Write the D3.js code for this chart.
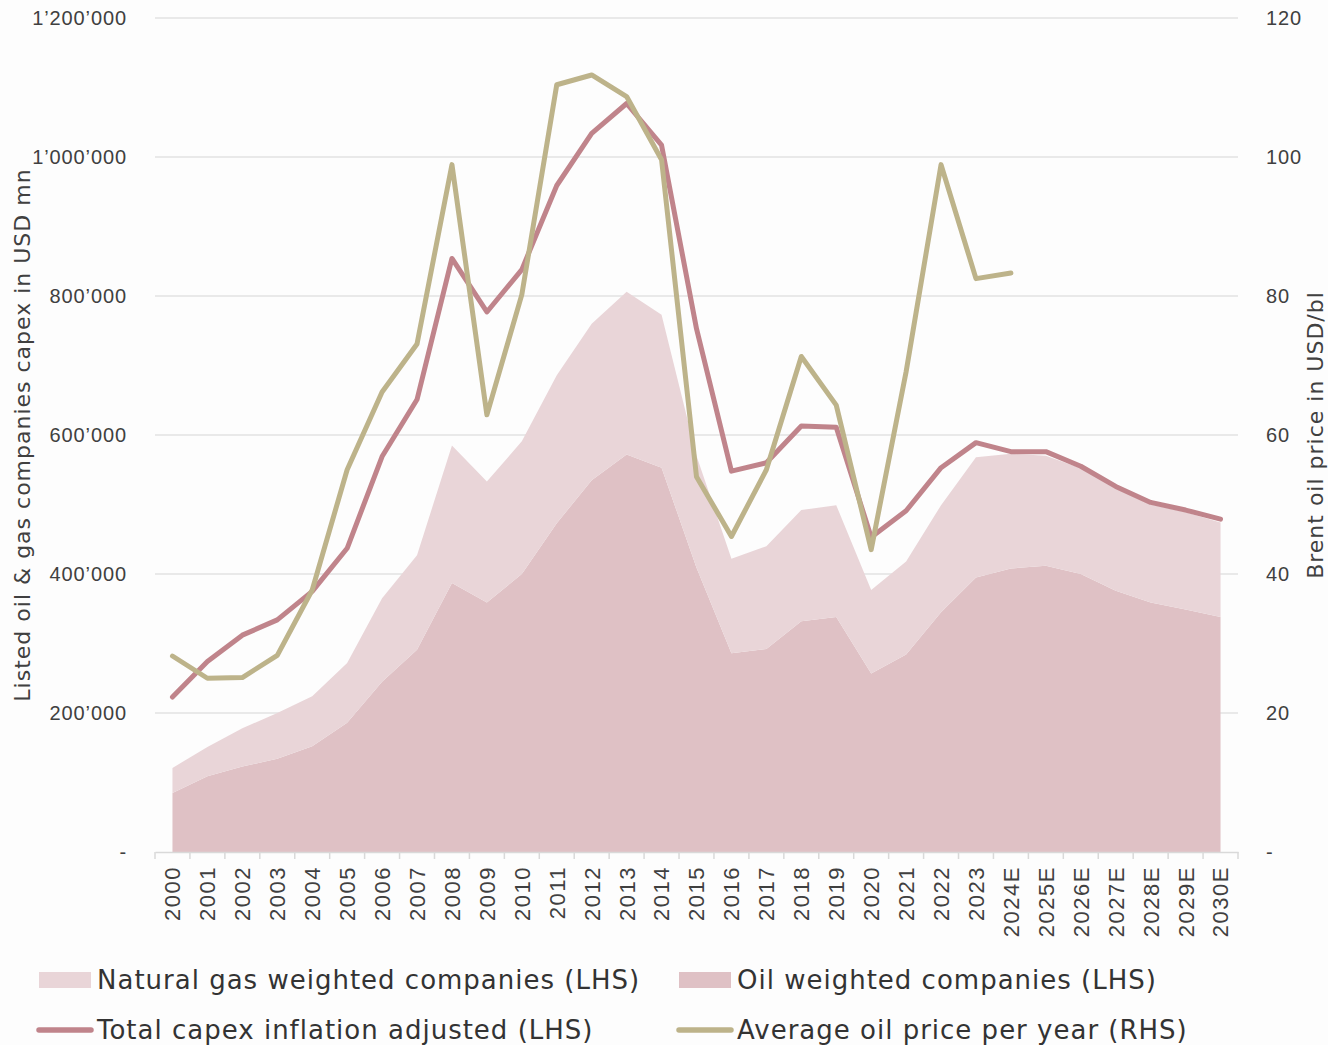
<!DOCTYPE html>
<html>
<head>
<meta charset="utf-8">
<script src="https://cdn.jsdelivr.net/npm/d3@7"></script>
<style>
  body { margin: 0; background: #fdfdfd; }
  svg { display: block; font-family: "DejaVu Sans", sans-serif; }
</style>
</head>
<body>
<svg id="chart" width="1328" height="1045"></svg>
<script>
// categories
var years = ["2000","2001","2002","2003","2004","2005","2006","2007","2008","2009","2010",
  "2011","2012","2013","2014","2015","2016","2017","2018","2019","2020","2021","2022","2023",
  "2024E","2025E","2026E","2027E","2028E","2029E","2030E"];

// capex, USD mn (LHS)
var oilWeighted = [85000,109000,123000,134000,152000,186000,245000,291000,387000,359000,400000,
  473000,535000,572000,553000,409000,286000,292000,332000,338000,257000,284000,345000,395000,
  408000,412000,400000,376000,359000,349000,338000];
var gasWeighted = [36000,42000,55000,66000,72000,86000,120000,136000,198000,174000,191000,
  213000,225000,234000,220000,161000,136000,148000,160000,161000,120000,134000,154000,173000,
  165000,158000,152000,147000,141000,140000,136000];
var totalCapex = [223000,274000,312000,334000,375000,437000,569000,651000,854000,777000,838000,
  959000,1034000,1077000,1017000,753000,548000,560000,613000,611000,453000,491000,553000,589000,
  576000,576000,555000,526000,503000,492000,479000];

// Brent, USD/bl (RHS)
var oilPrice = [28.2,25.0,25.1,28.3,37.7,55.0,66.2,73.1,98.9,62.9,80.2,
  110.4,111.8,108.7,99.6,54.0,45.4,55.0,71.3,64.3,43.5,69.1,98.9,82.5,
  83.3,null,null,null,null,null,null];

var leftTicks = [0,200000,400000,600000,800000,1000000,1200000];
var rightTicks = [0,20,40,60,80,100,120];

var cLight = "#e9d5d8", cDark = "#dfc1c5", cRed = "#c0848b", cGold = "#bdb38a";
var textCol = "#404040";

var svg = d3.select("#chart");
var mLeft = 155, mRight = 1238, mTop = 18, mBottom = 852;

var x = d3.scaleBand().domain(years).range([mLeft, mRight]).padding(0);
var xc = function(d){ return x(d) + x.bandwidth()/2; };
var y = d3.scaleLinear().domain([0,1200000]).range([mBottom, mTop]);
var y2 = d3.scaleLinear().domain([0,120]).range([mBottom, mTop]);

var fmt = function(v){ return v === 0 ? "-" : d3.format(",")(v).replace(/,/g, "\u2019"); };

// gridlines
svg.append("g").selectAll("line").data(leftTicks.slice(1)).join("line")
  .attr("x1", mLeft).attr("x2", mRight)
  .attr("y1", function(d){ return y(d); }).attr("y2", function(d){ return y(d); })
  .attr("stroke", "#e2e2e2").attr("stroke-width", 1.5);

// stacked areas
var rows = years.map(function(yr, i){ return {year: yr, oil: oilWeighted[i], gas: gasWeighted[i]}; });
var stacked = d3.stack().keys(["oil","gas"])(rows);
var area = d3.area()
  .x(function(d){ return xc(d.data.year); })
  .y0(function(d){ return y(d[0]); })
  .y1(function(d){ return y(d[1]); });
svg.append("g").selectAll("path").data(stacked).join("path")
  .attr("d", area)
  .attr("fill", function(d){ return d.key === "oil" ? cDark : cLight; });

// lines
var capexLine = d3.line()
  .x(function(d, i){ return xc(years[i]); })
  .y(function(d){ return y(d); });
svg.append("path").datum(totalCapex)
  .attr("d", capexLine)
  .attr("fill", "none").attr("stroke", cRed).attr("stroke-width", 5)
  .attr("stroke-linejoin", "round").attr("stroke-linecap", "round");

var priceLine = d3.line()
  .defined(function(d){ return d !== null; })
  .x(function(d, i){ return xc(years[i]); })
  .y(function(d){ return y2(d); });
svg.append("path").datum(oilPrice)
  .attr("d", priceLine)
  .attr("fill", "none").attr("stroke", cGold).attr("stroke-width", 5)
  .attr("stroke-linejoin", "round").attr("stroke-linecap", "round");

// x axis
var xAxis = svg.append("g").attr("transform", "translate(0," + mBottom + ")")
  .call(d3.axisBottom(x).tickSize(0).tickPadding(0));
xAxis.select(".domain").attr("stroke", "#d9d9d9").attr("stroke-width", 1.5);
xAxis.selectAll(".tick text")
  .attr("font-size", 22).attr("letter-spacing", 1.5).attr("fill", textCol)
  .attr("text-anchor", "end")
  .attr("transform", "translate(0,14) rotate(-90)")
  .attr("x", 0).attr("y", 0).attr("dy", "0.36em");
svg.append("g").selectAll("line").data(years.concat(["end"])).join("line")
  .attr("x1", function(d, i){ return mLeft + i * x.bandwidth(); })
  .attr("x2", function(d, i){ return mLeft + i * x.bandwidth(); })
  .attr("y1", mBottom).attr("y2", mBottom + 7)
  .attr("stroke", "#d9d9d9").attr("stroke-width", 1.5);

// left axis
var yAxis = svg.append("g").attr("transform", "translate(" + mLeft + ",0)")
  .call(d3.axisLeft(y).tickValues(leftTicks).tickFormat(fmt).tickSize(0).tickPadding(28));
yAxis.select(".domain").remove();
yAxis.selectAll(".tick text").attr("font-size", 20).attr("letter-spacing", 0.9).attr("fill", textCol);

// right axis
var y2Axis = svg.append("g").attr("transform", "translate(" + mRight + ",0)")
  .call(d3.axisRight(y2).tickValues(rightTicks).tickFormat(fmt).tickSize(0).tickPadding(28));
y2Axis.select(".domain").remove();
y2Axis.selectAll(".tick text").attr("font-size", 20).attr("letter-spacing", 0.9).attr("fill", textCol);

// axis titles
svg.append("text")
  .attr("transform", "translate(30," + (mTop + mBottom)/2 + ") rotate(-90)")
  .attr("text-anchor", "middle").attr("font-size", 22).attr("letter-spacing", 1)
  .attr("fill", textCol)
  .text("Listed oil & gas companies capex in USD mn");
svg.append("text")
  .attr("transform", "translate(1323," + (mTop + mBottom)/2 + ") rotate(-90)")
  .attr("text-anchor", "middle").attr("font-size", 22).attr("letter-spacing", 1)
  .attr("fill", textCol)
  .text("Brent oil price in USD/bl");

// legend
var legend = [
  {label: "Natural gas weighted companies (LHS)", type: "area", color: cLight, lx: 39, ly: 980},
  {label: "Oil weighted companies (LHS)", type: "area", color: cDark, lx: 679, ly: 980},
  {label: "Total capex inflation adjusted (LHS)", type: "line", color: cRed, lx: 39, ly: 1030},
  {label: "Average oil price per year (RHS)", type: "line", color: cGold, lx: 679, ly: 1030}
];
var lg = svg.append("g").selectAll("g").data(legend).join("g")
  .attr("transform", function(d){ return "translate(" + d.lx + "," + d.ly + ")"; });
lg.filter(function(d){ return d.type === "area"; }).append("rect")
  .attr("x", 0).attr("y", -8).attr("width", 52).attr("height", 16)
  .attr("fill", function(d){ return d.color; });
lg.filter(function(d){ return d.type === "line"; }).append("line")
  .attr("x1", 0).attr("x2", 52).attr("y1", 0).attr("y2", 0)
  .attr("stroke", function(d){ return d.color; }).attr("stroke-width", 5.5)
  .attr("stroke-linecap", "round");
lg.append("text")
  .attr("x", 58).attr("y", 0).attr("dy", "0.36em")
  .attr("font-size", 26).attr("letter-spacing", 1).attr("fill", "#333333")
  .text(function(d){ return d.label; });
</script>
</body>
</html>
